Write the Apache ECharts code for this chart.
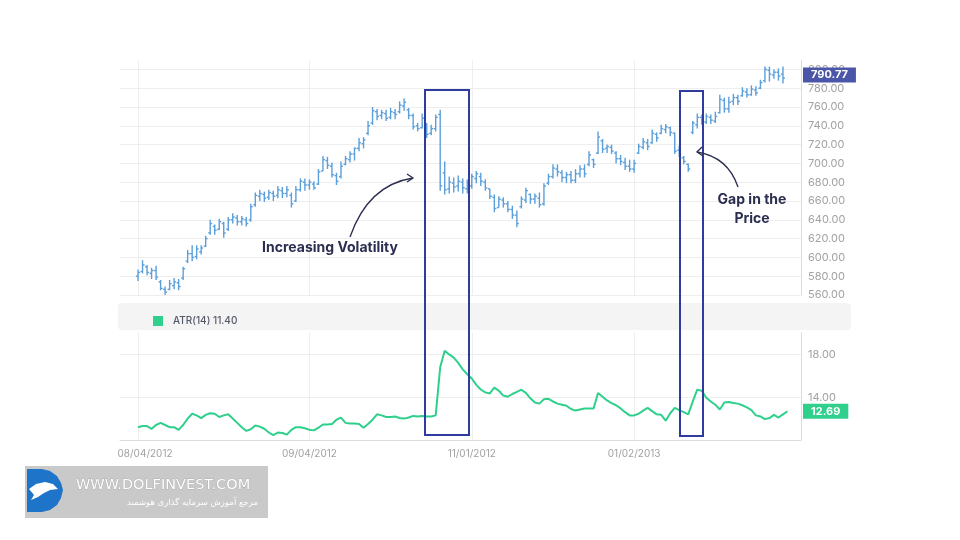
<!DOCTYPE html>
<html>
<head>
<meta charset="utf-8">
<script src="https://cdn.jsdelivr.net/npm/echarts@6/dist/echarts.min.js"></script>
<style>
html, body { margin: 0; padding: 0; background: #fff; }
#chart { width: 960px; height: 540px; }
</style>
</head>
<body>
<div id="chart"></div>
<script>
// slot layout of the time axis
const slotCount = 152
const firstIdx = 4
const dateIdx = [4, 42, 78, 114]
const dateLabels = ['08/04/2012', '09/04/2012', '11/01/2012', '01/02/2013']

// price bars (one per slot, from firstIdx)
const opens = [
  580, 585, 590, 583, 586, 574, 566, 566, 570, 573, 578, 596, 604, 601, 606, 612, 626, 633, 630, 636,
  630, 640, 642, 638, 640, 640, 656, 665, 667, 664, 668, 666, 671, 668, 666, 660, 672, 680, 677, 678,
  678, 692, 703, 697, 687, 686, 699, 704, 710, 716, 721, 732, 743, 755, 751, 753, 749, 754, 755, 761,
  757, 751, 740, 738, 741, 732, 737, 752, 690, 673, 679, 676, 680, 673, 676, 684, 686, 680, 673, 664,
  653, 661, 657, 651, 645, 654, 661, 667, 662, 663, 657, 679, 686, 694, 690, 685, 688, 682, 689, 694,
  699, 704, 711, 724, 716, 717, 711, 705, 701, 697, 694, 711, 717, 722, 722, 731, 732, 736, 738, 732,
  714, 706, 699, 733, 741, 749, 744, 749, 745, 754, 767, 758, 766, 770, 772, 776, 773, 778, 780, 788,
  799, 794, 797, 795
]
const closes = [
  584, 592, 584, 586, 579, 567, 563, 572, 574, 569, 588, 604, 600, 609, 610, 620, 636, 629, 638, 626,
  640, 643, 638, 641, 636, 654, 666, 668, 663, 669, 665, 672, 668, 672, 657, 672, 681, 677, 680, 674,
  691, 704, 698, 688, 681, 697, 705, 710, 716, 722, 725, 740, 756, 750, 754, 748, 755, 752, 762, 765,
  751, 739, 737, 748, 731, 737, 749, 676, 672, 680, 675, 681, 674, 678, 686, 689, 681, 674, 665, 652,
  662, 657, 651, 645, 636, 662, 671, 662, 665, 656, 676, 686, 695, 691, 685, 688, 682, 689, 694, 689,
  709, 699, 728, 715, 718, 713, 705, 702, 697, 694, 700, 718, 723, 718, 732, 727, 737, 739, 733, 713,
  710, 702, 694, 743, 749, 745, 750, 746, 750, 768, 758, 765, 770, 766, 777, 773, 779, 775, 786, 800,
  795, 797, 793, 790.77
]
const lows = [
  575, 583, 581, 577, 576, 565, 560, 565, 566, 565, 576, 594, 596, 598, 603, 611, 624, 624, 629, 621,
  628, 636, 634, 634, 633, 638, 654, 660, 659, 661, 660, 663, 663, 664, 653, 659, 670, 671, 672, 672,
  677, 692, 694, 685, 677, 684, 698, 701, 703, 713, 716, 730, 741, 746, 747, 745, 747, 747, 753, 756,
  747, 736, 734, 737, 727, 730, 734, 671, 667, 668, 669, 670, 668, 668, 673, 679, 676, 671, 662, 648,
  653, 653, 648, 641, 632, 652, 658, 657, 657, 653, 655, 677, 684, 686, 680, 679, 679, 679, 685, 685,
  697, 695, 710, 711, 711, 710, 700, 698, 693, 691, 690, 710, 715, 714, 721, 723, 731, 732, 729, 710,
  707, 699, 691, 731, 737, 741, 742, 742, 743, 753, 754, 754, 762, 762, 771, 770, 772, 772, 779, 786,
  787, 790, 788, 785
]
const highs = [
  587, 597, 592, 589, 591, 576, 569, 576, 578, 577, 590, 608, 613, 613, 613, 623, 640, 635, 641, 638,
  643, 647, 645, 644, 643, 657, 669, 672, 670, 672, 671, 676, 675, 676, 669, 676, 684, 684, 683, 681,
  694, 708, 707, 701, 690, 702, 708, 713, 717, 727, 728, 745, 760, 758, 757, 757, 759, 758, 766, 769,
  759, 753, 743, 753, 743, 741, 752, 757, 702, 686, 685, 687, 684, 683, 689, 692, 690, 683, 673, 667,
  665, 664, 660, 655, 650, 665, 674, 668, 668, 669, 679, 689, 699, 699, 693, 691, 692, 694, 698, 699,
  713, 705, 734, 726, 720, 720, 713, 709, 706, 704, 704, 721, 727, 726, 736, 733, 741, 742, 739, 733,
  719, 708, 700, 745, 753, 752, 753, 752, 755, 773, 770, 771, 774, 773, 781, 780, 783, 782, 789, 803,
  803, 800, 801, 803
]

// ATR(14) line (one per slot, from firstIdx)
const atr = [
  11.2, 11.3, 11.3, 11.05, 11.4, 11.6, 11.4, 11.2, 11.2, 10.95,
  11.4, 12.0, 12.45, 12.3, 12.05, 12.35, 12.5, 12.45, 12.15, 12.3,
  12.4, 12.0, 11.6, 11.2, 10.85, 11.0, 11.35, 11.25, 11.05, 10.7,
  10.45, 10.7, 10.65, 10.5, 10.95, 11.2, 11.2, 11.1, 10.95, 10.9,
  11.15, 11.45, 11.45, 11.5, 11.9, 12.1, 11.6, 11.55, 11.55, 11.5,
  11.15, 11.5, 11.9, 12.4, 12.3, 12.15, 12.15, 12.2, 12.05, 12.0,
  12.1, 12.25, 12.2, 12.25, 12.2, 12.2, 12.3, 16.8, 18.35, 18.0,
  17.7, 17.2, 16.6, 16.15, 15.75, 15.15, 14.72, 14.45, 14.35, 14.9,
  14.6, 14.15, 14.05, 14.3, 14.5, 14.7, 14.4, 13.9, 13.5, 13.4,
  13.8, 13.85, 13.6, 13.4, 13.3, 13.2, 12.9, 12.75, 12.85, 12.95,
  12.95, 12.95, 14.4, 14.05, 13.7, 13.45, 13.25, 12.95, 12.6, 12.3,
  12.3, 12.45, 12.75, 13.0, 12.7, 12.4, 12.35, 11.8, 12.5, 13.0,
  12.8, 12.6, 12.4, 13.6, 14.7, 14.6, 13.95, 13.6, 13.3, 12.85,
  13.5, 13.55, 13.45, 13.4, 13.25, 13.05, 12.8, 12.3, 12.2, 11.95,
  12.05, 12.35, 12.1, 12.4, 12.69
]
const atrLegendValue = 11.40

// axis tick labels
const priceTicks = [560, 580, 600, 620, 640, 660, 680, 700, 720, 740, 760, 780, 800]
const atrTicks = [14, 18]

const barColor = '#5b9fdb'
const atrColor = '#2fcf8c'
const gridColor = '#eeeeee'
const axisColor = '#dcdcdc'
const labelColor = '#a2a2a2'
const inkColor = '#2b2e50'
const boxColor = '#2f3c9e'

const categories = []
for (let i = 0; i < slotCount; i++) categories.push(String(i))

const bars = opens.map((o, k) => [firstIdx + k, o, closes[k], lows[k], highs[k]])
const atrData = atr.map((v, k) => [firstIdx + k, v])
const lastPrice = closes[closes.length - 1]
const lastAtr = atr[atr.length - 1]

function drawBar(params, api) {
  const i = api.value(0)
  const o = api.coord([i, api.value(1)])
  const c = api.coord([i, api.value(2)])
  const l = api.coord([i, api.value(3)])
  const h = api.coord([i, api.value(4)])
  const s = { stroke: barColor, lineWidth: 1.4 }
  return {
    type: 'group',
    children: [
      { type: 'line', shape: { x1: l[0], y1: l[1], x2: h[0], y2: h[1] }, style: s },
      { type: 'line', shape: { x1: o[0] - 2, y1: o[1], x2: o[0], y2: o[1] }, style: s },
      { type: 'line', shape: { x1: c[0], y1: c[1], x2: c[0] + 2, y2: c[1] }, style: s }
    ]
  }
}

function gridLines(values) {
  return values.map(v => ({ yAxis: v, lineStyle: { color: gridColor, width: 1, type: 'solid' }, label: { show: false } }))
}

function valueTag(value, bg, dy) {
  return {
    yAxis: value,
    lineStyle: { color: 'rgba(0,0,0,0)', width: 0 },
    label: {
      show: true,
      position: 'end',
      distance: 2,
      offset: [0, dy],
      formatter: value.toFixed(2),
      backgroundColor: bg,
      color: '#fff',
      fontFamily: 'Inter',
      fontWeight: 'bold',
      fontSize: 11,
      padding: [2, 8, 1, 8],
      lineHeight: 12
    }
  }
}

const xBase = {
  type: 'category',
  data: categories,
  boundaryGap: false,
  axisTick: { show: false },
  splitLine: { show: true, interval: (i) => dateIdx.includes(i), lineStyle: { color: gridColor } }
}

const myChart = echarts.init(document.getElementById('chart'))
const option = {
  backgroundColor: '#fff',
  animation: false,
  textStyle: { fontFamily: 'Inter' },
  grid: [
    { left: 120, right: 159, top: 60, height: 235 },
    { left: 120, right: 159, top: 333, height: 107 }
  ],
  xAxis: [
    Object.assign({}, xBase, {
      gridIndex: 0,
      axisLine: { show: true, lineStyle: { color: gridColor } },
      axisLabel: { show: false }
    }),
    Object.assign({}, xBase, {
      gridIndex: 1,
      axisLine: { show: true, lineStyle: { color: axisColor } },
      axisLabel: {
        interval: (i) => dateIdx.includes(i),
        color: labelColor,
        fontSize: 10,
        margin: 9,
        formatter: (v) => {
          const k = dateIdx.indexOf(Number(v))
          if (k < 0) return ''
          return k === 0 ? '{a|' + dateLabels[k] + '}' : dateLabels[k]
        },
        rich: { a: { color: labelColor, fontSize: 10, padding: [0, 0, 0, 14] } }
      }
    })
  ],
  yAxis: [
    {
      type: 'value',
      gridIndex: 0,
      position: 'right',
      min: 560,
      max: 810,
      interval: 20,
      axisLine: { show: true, lineStyle: { color: axisColor } },
      axisTick: { show: false },
      splitLine: { show: false },
      axisLabel: {
        color: labelColor,
        fontSize: 11,
        margin: 7,
        formatter: (v) => priceTicks.includes(v) ? v.toFixed(2) : ''
      }
    },
    {
      type: 'value',
      gridIndex: 1,
      position: 'right',
      min: 10,
      max: 20,
      interval: 2,
      axisLine: { show: true, lineStyle: { color: axisColor } },
      axisTick: { show: false },
      splitLine: { show: false },
      axisLabel: {
        color: labelColor,
        fontSize: 11,
        margin: 7,
        formatter: (v) => atrTicks.includes(v) ? v.toFixed(2) : ''
      }
    }
  ],
  legend: {
    data: ['ATR(14)'],
    left: 148,
    top: 311,
    icon: 'rect',
    itemWidth: 10,
    itemHeight: 10,
    selectedMode: false,
    formatter: (name) => name + ' ' + atrLegendValue.toFixed(2),
    textStyle: { color: '#55586a', fontSize: 10, fontWeight: 500, padding: [0, 0, 0, 5] }
  },
  series: [
    {
      type: 'line',
      xAxisIndex: 0,
      yAxisIndex: 0,
      data: [],
      z: 1,
      markLine: { silent: true, z: 1, symbol: ['none', 'none'], data: gridLines(priceTicks) }
    },
    {
      type: 'line',
      xAxisIndex: 1,
      yAxisIndex: 1,
      data: [],
      z: 1,
      markLine: { silent: true, z: 1, symbol: ['none', 'none'], data: gridLines(atrTicks) }
    },
    {
      name: 'Price',
      type: 'custom',
      xAxisIndex: 0,
      yAxisIndex: 0,
      z: 3,
      renderItem: drawBar,
      encode: { x: 0, y: [1, 2, 3, 4] },
      data: bars,
      markLine: { silent: true, z: 6, symbol: ['none', 'none'], data: [valueTag(lastPrice, '#4b56a8', -3)] }
    },
    {
      name: 'ATR(14)',
      type: 'line',
      xAxisIndex: 1,
      yAxisIndex: 1,
      z: 3,
      showSymbol: false,
      symbol: 'none',
      itemStyle: { color: atrColor },
      lineStyle: { color: atrColor, width: 2 },
      data: atrData,
      markLine: { silent: true, z: 6, symbol: ['none', 'none'], data: [valueTag(lastAtr, atrColor, 0)] }
    }
  ],
  graphic: [
    // legend band
    { type: 'rect', z: -1, shape: { x: 118, y: 303, width: 733, height: 27, r: 4 }, style: { fill: '#f4f4f5' } },
    // annotation boxes
    { type: 'rect', z: 100, shape: { x: 425, y: 90, width: 44, height: 345 }, style: { fill: 'none', stroke: boxColor, lineWidth: 2 } },
    { type: 'rect', z: 100, shape: { x: 680, y: 91, width: 23, height: 345 }, style: { fill: 'none', stroke: boxColor, lineWidth: 2 } },
    // arrows
    { type: 'bezierCurve', z: 100, shape: { x1: 350, y1: 237, cpx1: 368, cpy1: 185, x2: 413, y2: 178 }, style: { fill: 'none', stroke: inkColor, lineWidth: 1.3 } },
    { type: 'polyline', z: 100, shape: { points: [[407, 174], [413, 178], [407, 182]] }, style: { fill: 'none', stroke: inkColor, lineWidth: 1.3 } },
    { type: 'bezierCurve', z: 100, shape: { x1: 738, y1: 187, cpx1: 728, cpy1: 157, x2: 697, y2: 152 }, style: { fill: 'none', stroke: inkColor, lineWidth: 1.3 } },
    { type: 'polyline', z: 100, shape: { points: [[702, 147], [697, 152], [703, 156]] }, style: { fill: 'none', stroke: inkColor, lineWidth: 1.3 } },
    // annotation text
    { type: 'text', z: 100, style: { x: 330, y: 248, text: 'Increasing Volatility', fill: inkColor, font: 'bold 14px Inter', textAlign: 'center', textVerticalAlign: 'middle' } },
    { type: 'text', z: 100, style: { x: 752, y: 200, text: 'Gap in the', fill: inkColor, font: 'bold 14px Inter', textAlign: 'center', textVerticalAlign: 'middle' } },
    { type: 'text', z: 100, style: { x: 752, y: 219, text: 'Price', fill: inkColor, font: 'bold 14px Inter', textAlign: 'center', textVerticalAlign: 'middle' } },
    // watermark
    { type: 'rect', z: 100, shape: { x: 25, y: 466, width: 243, height: 52 }, style: { fill: '#c9c9c9' } },
    { type: 'polygon', z: 101, shape: { points: [[27, 469], [42, 469], [50, 471], [57, 476], [61, 483], [63, 490], [61, 498], [57, 505], [50, 510], [42, 512], [27, 512]] }, style: { fill: '#1d74c8' } },
    { type: 'polygon', z: 102, shape: { points: [[29, 489], [36, 484], [45, 482], [53, 484], [58, 489], [50, 490], [44, 493], [38, 497], [31, 500], [34, 495]] }, style: { fill: '#ffffff' } },
    { type: 'text', z: 101, style: { x: 76, y: 485, text: 'WWW.DOLFINVEST.COM', fill: '#ffffff', stroke: '#9c9c9c', lineWidth: 0.6, font: '14.5px "DejaVu Sans"', textVerticalAlign: 'middle' } },
    { type: 'text', z: 101, style: { x: 258, y: 503, text: 'مرجع آموزش سرمایه گذاری هوشمند', fill: '#ffffff', font: '8.5px "DejaVu Sans"', textAlign: 'right', textVerticalAlign: 'middle' } }
  ]
}
myChart.setOption(option)
</script>
</body>
</html>
